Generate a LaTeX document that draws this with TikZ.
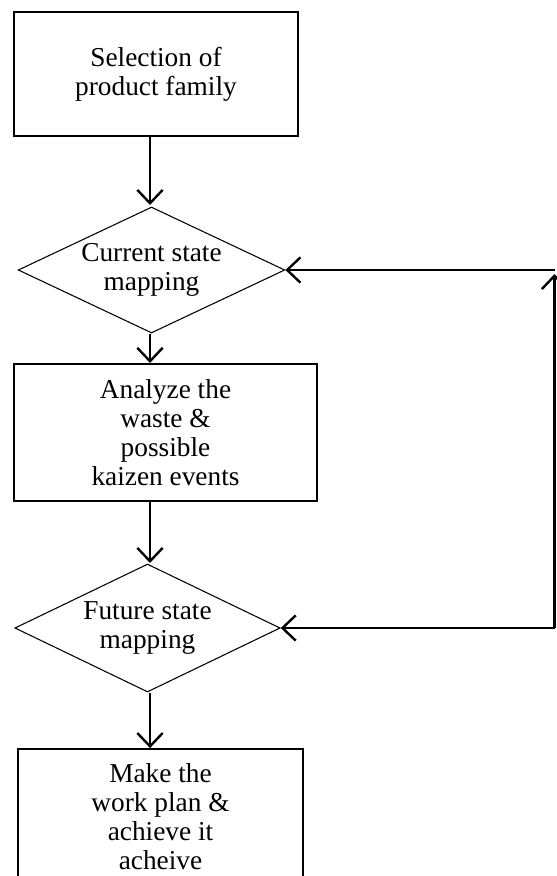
\documentclass[tikz,border=0pt]{standalone}
\usepackage{fontspec}
\setmainfont{Liberation Serif}
\usetikzlibrary{shapes.geometric,arrows.meta}
\begin{document}
\begin{tikzpicture}[x=0.75pt,y=-0.75pt,
  txt/.style={font=\fontsize{20.5}{21.75}\selectfont, align=center},
  procbox/.style={draw, line width=1.6pt, rectangle, inner sep=0pt, txt},
  decbox/.style={draw, line width=0.8pt, diamond, aspect=2.1, inner sep=0pt, txt},
  arr/.style={line width=1.8pt, -{Straight Barb[length=10pt,width=19pt,line width=1.8pt]}}]
\useasboundingbox (0,0) rectangle (557,876);
\clip (0,0) rectangle (557,876);
\node[procbox, minimum width=213pt, minimum height=93pt] (b1) at (156,74) {Selection of\\product family};
\node[decbox, minimum width=200pt, minimum height=94.5pt] (d1) at (151.5,270) {Current state\\mapping};
\node[procbox, minimum width=227.25pt, minimum height=102.75pt] (b2) at (165.5,432.5) {Analyze the\\waste \&\\possible\\kaizen events};
\node[decbox, minimum width=199pt, minimum height=96pt] (d2) at (147.5,628) {Future state\\mapping};
\node[draw, line width=1.6pt, rectangle, minimum width=214pt, minimum height=113pt] (b3) at (160.5,824.5) {};
\node[txt, anchor=north] (t3) at (160.5,759) {Make the\\work plan \&\\achieve it\\acheive};
\coordinate (cr) at (d2.east -| 554.5,0);
\coordinate (ct) at (d1.east -| 554.5,0);
\draw[arr] (b1.south -| 150,0) -- (150,205);
\draw[arr] (d1.south -| 150,0) -- (b2.north -| 150,0);
\draw[arr] (b2.south -| 150,0) -- (150,563);
\draw[arr] (d2.south -| 150,0) -- (b3.north -| 150,0);
\draw[arr] (cr) -- (d2.east);
\draw[arr, shorten >=3pt] (cr) -- (ct);
\draw[arr] (ct) -- (d1.east);
\end{tikzpicture}
\end{document}
